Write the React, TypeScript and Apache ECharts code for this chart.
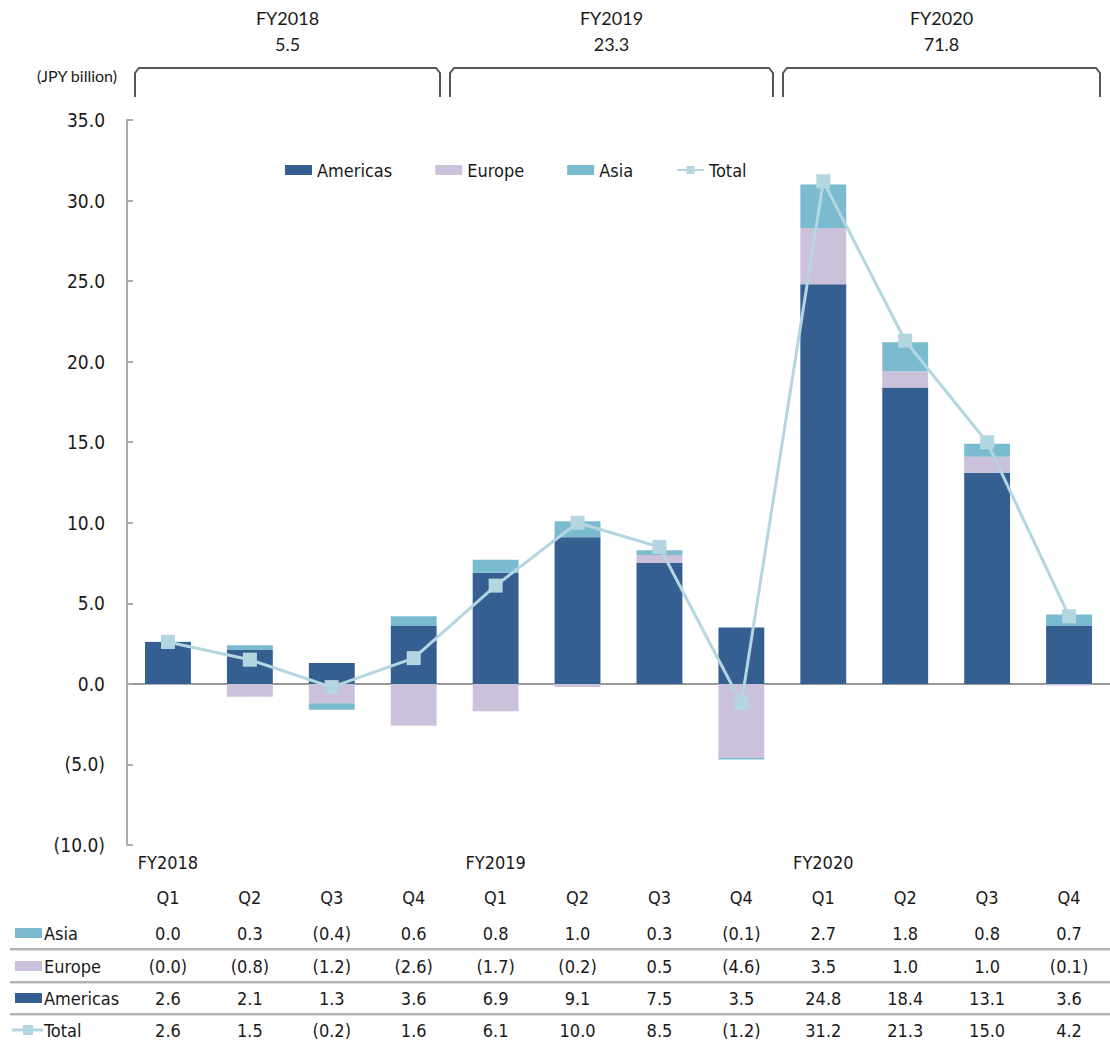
import React, { useEffect, useRef } from "react";
import * as echarts from "echarts";

const quarters = ["Q1", "Q2", "Q3", "Q4", "Q1", "Q2", "Q3", "Q4", "Q1", "Q2", "Q3", "Q4"];
const fiscalYears = ["FY2018", "", "", "", "FY2019", "", "", "", "FY2020", "", "", ""];
const fyHeaders = ["FY2018", "FY2019", "FY2020"];
const fyTotals = [5.5, 23.3, 71.8];
const asia = [0.02, 0.3, -0.4, 0.6, 0.8, 1.0, 0.3, -0.1, 2.7, 1.8, 0.8, 0.7];
const europe = [-0.04, -0.8, -1.2, -2.6, -1.7, -0.2, 0.5, -4.6, 3.5, 1.0, 1.0, -0.1];
const americas = [2.6, 2.1, 1.3, 3.6, 6.9, 9.1, 7.5, 3.5, 24.8, 18.4, 13.1, 3.6];
const total = [2.6, 1.5, -0.2, 1.6, 6.1, 10.0, 8.5, -1.2, 31.2, 21.3, 15.0, 4.2];
const yMin = -10;
const yMax = 35;
const yStep = 5;

const C_AMERICAS = "#365F91";
const C_EUROPE = "#CCC1DA";
const C_ASIA = "#7BBBD0";
const C_TOTAL = "#B4D6E1";
const FONT = "DejaVu Sans Condensed";
const HFONT = "Lato";

const fmt = (v: number) => (v < 0 ? `(${Math.abs(v).toFixed(1)})` : v.toFixed(1));

export default function App() {
  const ref = useRef<HTMLDivElement>(null);
  useEffect(() => {
    if (!ref.current) return;
    const chart = echarts.init(ref.current, null, { renderer: "svg" });
    const gridBottom = 845;
    const rowAxis = (data: string[], centerY: number) => ({
      type: "category",
      data,
      position: "bottom",
      offset: centerY - gridBottom - 9,
      axisLine: { show: false, onZero: false },
      axisTick: { show: false },
      splitLine: { show: false },
      axisLabel: {
        interval: 0,
        margin: 0,
        fontSize: 18,
        fontFamily: FONT,
        color: "#1a1a1a",
      },
    });
    const brackets = [
      [135, 440],
      [450, 773],
      [783, 1100],
    ];
    const graphics: any[] = [];
    brackets.forEach(([x1, x2], i) => {
      graphics.push({
        type: "polyline",
        shape: {
          points: [
            [x1, 97],
            [x1, 73],
            [x1 + 4, 68],
            [x2 - 4, 68],
            [x2, 73],
            [x2, 97],
          ],
        },
        style: { stroke: "#555", lineWidth: 2, fill: null },
      });
      const cx = (x1 + x2) / 2;
      graphics.push({
        type: "text",
        x: cx,
        y: 18,
        style: { text: fyHeaders[i], font: `18px ${HFONT}`, fill: "#1a1a1a", align: "center", verticalAlign: "middle" },
      });
      graphics.push({
        type: "text",
        x: cx,
        y: 44,
        style: { text: fyTotals[i].toFixed(1), font: `18px ${HFONT}`, fill: "#1a1a1a", align: "center", verticalAlign: "middle" },
      });
    });
    graphics.push({
      type: "text",
      x: 77,
      y: 75,
      style: { text: "(JPY billion)", font: `16px ${HFONT}`, fill: "#1a1a1a", align: "center", verticalAlign: "middle" },
    });
    // table row labels
    const rows = [
      { name: "Asia", y: 933, color: C_ASIA, line: false },
      { name: "Europe", y: 966, color: C_EUROPE, line: false },
      { name: "Americas", y: 998, color: C_AMERICAS, line: false },
      { name: "Total", y: 1030, color: C_TOTAL, line: true },
    ];
    rows.forEach((r) => {
      if (r.line) {
        graphics.push({
          type: "line",
          shape: { x1: 12, y1: r.y, x2: 43, y2: r.y },
          style: { stroke: r.color, lineWidth: 3 },
        });
        graphics.push({
          type: "rect",
          shape: { x: 23, y: r.y - 5, width: 10, height: 10 },
          style: { fill: r.color },
        });
      } else {
        graphics.push({
          type: "rect",
          shape: { x: 15, y: r.y - 5, width: 27, height: 10 },
          style: { fill: r.color },
        });
      }
      graphics.push({
        type: "text",
        x: 44,
        y: r.y,
        style: { text: r.name, font: `18px ${FONT}`, fill: "#1a1a1a", align: "left", verticalAlign: "middle" },
      });
    });
    [949, 982, 1014].forEach((y) => {
      graphics.push({
        type: "line",
        shape: { x1: 10, y1: y, x2: 1110, y2: y },
        style: { stroke: "#999", lineWidth: 1.5 },
      });
      graphics.push({
        type: "line",
        shape: { x1: 10, y1: y + 1.5, x2: 1110, y2: y + 1.5 },
        style: { stroke: "#ddd", lineWidth: 1 },
      });
    });

    chart.setOption({
      animation: false,
      grid: { left: 127, right: -8, top: 120, bottom: 1043 - gridBottom, containLabel: false },
      legend: {
        left: 280,
        top: 156,
        itemWidth: 27,
        itemHeight: 10,
        itemGap: 43,
        textStyle: { fontSize: 18, fontFamily: FONT, color: "#1a1a1a" },
        data: [
          { name: "Americas", icon: "rect" },
          { name: "Europe", icon: "rect" },
          { name: "Asia", icon: "rect" },
          { name: "Total" },
        ],
      },
      xAxis: [
        {
          type: "category",
          data: quarters,
          axisLine: { onZero: true, lineStyle: { color: "#999", width: 2 } },
          axisTick: { show: false },
          axisLabel: { show: false },
        },
        rowAxis(fiscalYears, 862),
        rowAxis(quarters, 897),
        rowAxis(asia.map(fmt), 933),
        rowAxis(europe.map(fmt), 966),
        rowAxis(americas.map(fmt), 998),
        rowAxis(total.map(fmt), 1030),
      ],
      yAxis: {
        type: "value",
        min: yMin,
        max: yMax,
        interval: yStep,
        axisLine: { show: true, lineStyle: { color: "#aaa", width: 2 } },
        axisTick: { show: true, inside: true, length: 6, lineStyle: { color: "#aaa", width: 2 } },
        splitLine: { show: false },
        axisLabel: {
          margin: 22,
          fontSize: 19,
          fontFamily: FONT,
          color: "#1a1a1a",
          formatter: (v: number) => fmt(v),
        },
      },
      series: [
        {
          name: "Americas",
          type: "bar",
          stack: "s",
          data: americas,
          barWidth: "56%",
          itemStyle: { color: C_AMERICAS },
        },
        {
          name: "Europe",
          type: "bar",
          stack: "s",
          data: europe,
          barWidth: "56%",
          itemStyle: { color: C_EUROPE },
        },
        {
          name: "Asia",
          type: "bar",
          stack: "s",
          data: asia,
          barWidth: "56%",
          itemStyle: { color: C_ASIA },
        },
        {
          name: "Total",
          type: "line",
          data: total,
          symbol: "rect",
          symbolSize: 14,
          lineStyle: { color: C_TOTAL, width: 3 },
          itemStyle: { color: C_TOTAL },
          z: 5,
        },
      ],
      graphic: graphics,
    });
    return () => chart.dispose();
  }, []);
  return (
    <div
      ref={ref}
      style={{ position: "absolute", left: 0, top: 0, width: 1110, height: 1043, background: "#fff" }}
    />
  );
}
